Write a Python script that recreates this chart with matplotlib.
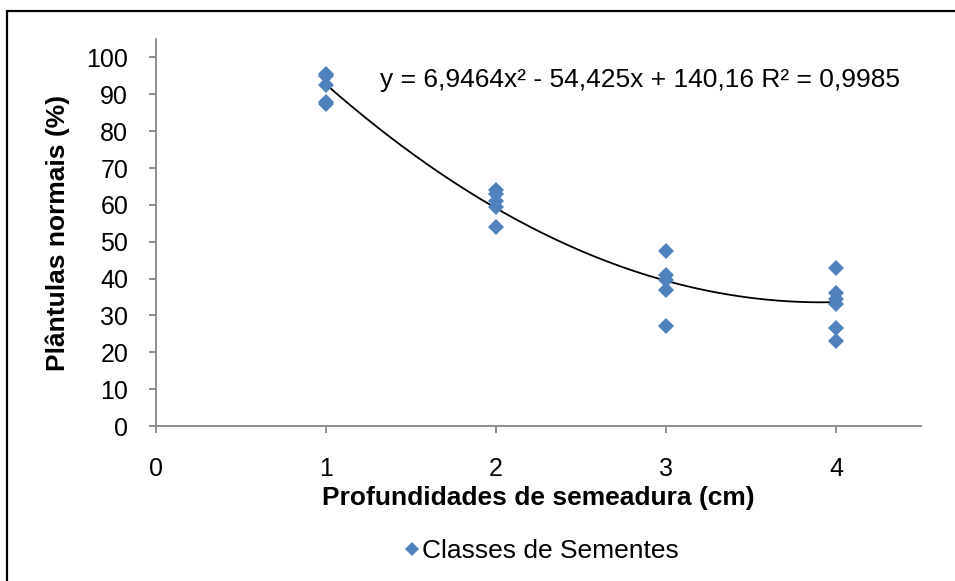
import numpy as np
import matplotlib
matplotlib.use("Agg")
import matplotlib.pyplot as plt
from matplotlib.patches import Rectangle
from matplotlib.lines import Line2D

plt.rcParams['font.family'] = ['Liberation Sans', 'DejaVu Sans']

# Sowing depth (cm) and normal seedlings (%) for each seed class
depth = [1, 1, 1, 1, 1,
         2, 2, 2, 2, 2,
         3, 3, 3, 3, 3,
         4, 4, 4, 4, 4, 4]
seedlings = [95.5, 95.0, 92.5, 88.0, 87.5,
             64.0, 63.0, 61.0, 59.5, 54.0,
             47.5, 41.0, 39.5, 37.0, 27.0,
             43.0, 36.0, 34.5, 33.0, 26.5, 23.0]

# Quadratic trendline coefficients (a x^2 + b x + c) and R²
coef_a, coef_b, coef_c = 6.9464, -54.425, 140.16
r_squared = 0.9985

x_ticks = [0, 1, 2, 3, 4]
y_ticks = [0, 10, 20, 30, 40, 50, 60, 70, 80, 90, 100]

W, H = 955, 581
fig = plt.figure(figsize=(W / 100, H / 100), dpi=100)

# chart frame
fig.patches.append(Rectangle((7 / W, -0.05), 1.2, (H - 11) / H + 0.05,
                             transform=fig.transFigure, fill=False,
                             edgecolor='black', linewidth=1.6))

left, right, top, bottom = 156, 921, 39, 426
ax = fig.add_axes([left / W, 1 - bottom / H, (right - left) / W, (bottom - top) / H])

axis_grey = '#868686'
blue = '#4F81BD'

ax.plot(depth, seedlings, linestyle='none', marker='D', markersize=7.8,
        color=blue, markeredgewidth=0, zorder=3)

xs = np.linspace(1, 4, 200)
ax.plot(xs, coef_a * xs ** 2 + coef_b * xs + coef_c, color='black', linewidth=1.3, zorder=2)

ax.set_xlim(0, 4.5)
ax.set_ylim(0, 105)
ax.set_xticks(x_ticks)
ax.set_yticks(y_ticks)
ax.set_xticklabels([str(v) for v in x_ticks])
ax.set_yticklabels([str(v) for v in y_ticks])

for s in ['top', 'right']:
    ax.spines[s].set_visible(False)
for s in ['left', 'bottom']:
    ax.spines[s].set_color(axis_grey)
    ax.spines[s].set_linewidth(1.3)
ax.tick_params(axis='both', colors=axis_grey, labelcolor='black', labelsize=18,
               length=5, width=1.3)
ax.tick_params(axis='x', pad=17)
ax.tick_params(axis='y', pad=15)

ax.set_xlabel('Profundidades de semeadura (cm)', fontsize=19, fontweight='bold', labelpad=4)
ax.set_ylabel('Plântulas normais (%)', fontsize=19, fontweight='bold', labelpad=12)

eq = ('y = {:,.4f}x² - {:,.3f}x + {:,.2f} R² = {:,.4f}'
      .format(coef_a, -coef_b, coef_c, r_squared).replace('.', ','))
ax.text(380 / W, 1 - 80 / H, eq, transform=fig.transFigure, fontsize=19,
        ha='left', va='center')

handle = Line2D([], [], linestyle='none', marker='D', markersize=7,
                color=blue, markeredgewidth=0)
fig.legend([handle], ['Classes de Sementes'], loc='center',
           bbox_to_anchor=(540 / W, 1 - 551 / H), frameon=False, fontsize=19,
           handletextpad=0.0, handlelength=0.8)

fig.savefig('out.png', dpi=100)
